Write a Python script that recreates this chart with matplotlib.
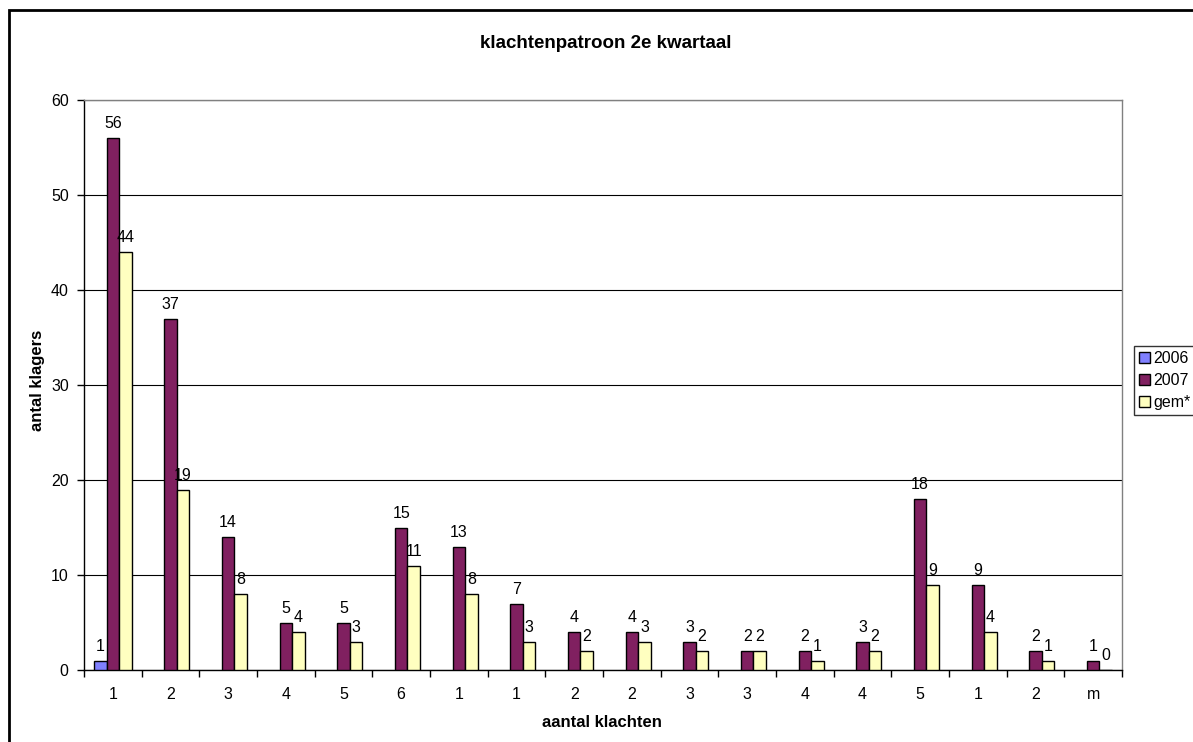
import matplotlib
matplotlib.use("Agg")
import matplotlib.pyplot as plt
from matplotlib.patches import Rectangle, Patch
import numpy as np

plt.rcParams['font.family'] = ['Liberation Sans', 'DejaVu Sans']

categories = ["1", "2", "3", "4", "5", "6", "1", "1", "2", "2", "3", "3", "4", "4", "5", "1", "2", "m"]
s2006 = [1, None, None, None, None, None, None, None, None, None, None, None, None, None, None, None, None, None]
s2007 = [56, 37, 14, 5, 5, 15, 13, 7, 4, 4, 3, 2, 2, 3, 18, 9, 2, 1]
sgem = [44, 19, 8, 4, 3, 11, 8, 3, 2, 3, 2, 2, 1, 2, 9, 4, 1, 0]
series_names = ["2006", "2007", "gem*"]
colors = ["#8080FF", "#802060", "#FFFFC0"]

W, H = 1193, 742
fig = plt.figure(figsize=(W / 100, H / 100), dpi=100)

# outer chart border (extends beyond image to the right/bottom)
fig.patches.append(Rectangle((9 / W, -0.1), 1.2, 1 - 10 / H + 0.1, transform=fig.transFigure,
                             fill=False, edgecolor="black", linewidth=2, clip_on=False))

left, right, top, bottom = 84, 1122, 100, 670
ax = fig.add_axes([left / W, 1 - bottom / H, (right - left) / W, (bottom - top) / H])

n = len(categories)
x = np.arange(n) + 0.5
w = 0.218
offsets = [-w, 0, w]
for vals, off, col in zip([s2006, s2007, sgem], offsets, colors):
    idx = [i for i, v in enumerate(vals) if v is not None]
    hv = [vals[i] for i in idx]
    bars = ax.bar(x[idx] + off, hv, width=w, color=col, edgecolor="black", linewidth=1.0, zorder=3)
    ax.bar_label(bars, labels=[str(v) for v in hv], padding=5, fontsize=11.5, zorder=4)

ax.set_xlim(0, n)
ax.set_ylim(0, 60)
ax.set_yticks(range(0, 61, 10))
ax.tick_params(axis="y", labelsize=11.5, length=5, direction="out", width=1, pad=6)
ax.set_xticks(x)
ax.set_xticklabels(categories, fontsize=11.5)
ax.set_xticks(np.arange(n + 1), minor=True)
ax.tick_params(axis="x", which="major", length=0, pad=12)
ax.tick_params(axis="x", which="minor", length=5, width=1)
ax.yaxis.grid(True, color="black", linewidth=0.8, zorder=0)
ax.set_axisbelow(True)
for s in ["top", "right"]:
    ax.spines[s].set_color("#808080")
    ax.spines[s].set_linewidth(1)
for s in ["left", "bottom"]:
    ax.spines[s].set_color("black")
    ax.spines[s].set_linewidth(1)

fig.text(37.5 / W, 1 - 380 / H, "antal klagers", rotation=90, ha="center", va="center",
         fontsize=12, fontweight="bold")
fig.text(602 / W, 1 - 727 / H, "aantal klachten", ha="center", va="baseline",
         fontsize=12, fontweight="bold")
fig.text(606 / W, 1 - 48 / H, "klachtenpatroon 2e kwartaal", ha="center", va="baseline",
         fontsize=13.5, fontweight="bold")

handles = [Patch(facecolor=c, edgecolor="black", linewidth=1) for c in colors]
leg = fig.legend(handles, series_names, loc="upper left", bbox_to_anchor=(1134 / W, 1 - 346 / H),
                 fontsize=11.5, frameon=True, fancybox=False, edgecolor="black",
                 handlelength=0.7, handleheight=0.7, handletextpad=0.2, borderpad=0.3,
                 labelspacing=0.45, borderaxespad=0)
leg.get_frame().set_linewidth(1)

fig.savefig("out.png", dpi=100)
